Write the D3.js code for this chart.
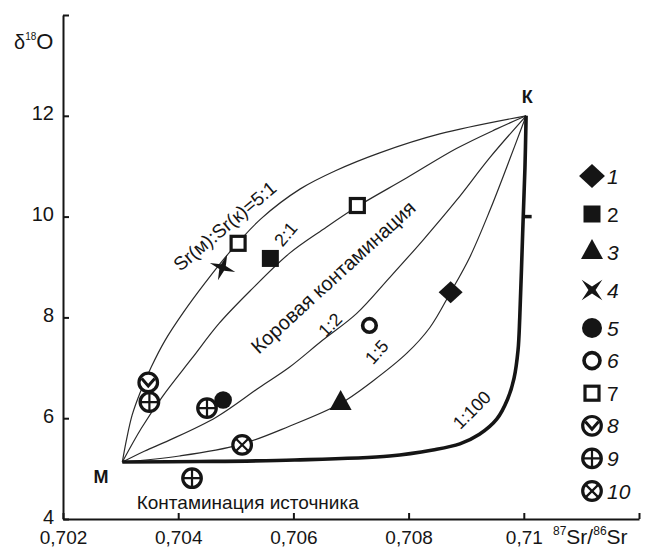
<!DOCTYPE html>
<html>
<head>
<meta charset="utf-8">
<script src="https://cdn.jsdelivr.net/npm/d3@7"></script>
<style>
  body { margin: 0; background: #fff; }
  svg { display: block; font-family: "Liberation Sans", Arial, sans-serif; }
</style>
</head>
<body>
<svg id="chart" width="649" height="549"></svg>
<script>
// values
var legendLabels = ['1', '2', '3', '4', '5', '6', '7', '8', '9', '10'];
var xTicks = [0.702, 0.704, 0.706, 0.708, 0.71, 0.712];
var xTickLabels = ['0,702', '0,704', '0,706', '0,708', '0,71', ''];
var yTicks = [4, 6, 8, 10, 12, 14];
var yTickLabels = ['4', '6', '8', '10', '12', ''];

// samples: type (legend number), 87Sr/86Sr, d18O
var pointType = [1, 2, 3, 4, 5, 6, 7, 7, 8, 9, 9, 9, 10];
var pointSr = [0.70873, 0.70560, 0.70682, 0.70477, 0.70478, 0.70732, 0.70504, 0.70711, 0.70348, 0.70350, 0.70450, 0.70424, 0.70511];
var pointO = [8.50, 9.17, 6.30, 8.99, 6.36, 7.84, 9.47, 10.22, 6.71, 6.32, 6.20, 4.81, 5.47];

// mixing curves M -> K, [87Sr/86Sr, d18O]
var curve5to1 = [[0.70303, 5.13], [0.70310, 5.56], [0.70320, 6.06], [0.70334, 6.51], [0.70353, 7.01],
  [0.70377, 7.54], [0.70409, 8.10], [0.70447, 8.69], [0.70489, 9.29], [0.70544, 9.96], [0.70612, 10.55],
  [0.70673, 10.91], [0.70751, 11.27], [0.70854, 11.64], [0.71004, 12.0]];
var curve2to1 = [[0.70303, 5.13], [0.70336, 5.80], [0.70372, 6.42], [0.70424, 7.19], [0.70471, 7.88],
  [0.70527, 8.55], [0.70593, 9.27], [0.70652, 9.75], [0.70711, 10.20], [0.70797, 10.77], [0.70883, 11.35],
  [0.70953, 11.74], [0.71004, 12.0]];
var curve1to2 = [[0.70303, 5.13], [0.70342, 5.35], [0.70384, 5.56], [0.70466, 6.02], [0.70541, 6.61],
  [0.70593, 7.01], [0.70650, 7.54], [0.70710, 8.08], [0.70767, 8.79], [0.70824, 9.52], [0.70883, 10.32],
  [0.70941, 11.17], [0.71004, 12.0]];
var curve1to5 = [[0.70303, 5.13], [0.70402, 5.25], [0.70506, 5.47], [0.70593, 5.84], [0.70680, 6.28],
  [0.70737, 6.73], [0.70797, 7.29], [0.70837, 7.80], [0.70873, 8.50], [0.70906, 9.19], [0.70941, 10.12],
  [0.70970, 10.97], [0.71004, 12.0]];
var curve1to100 = [[0.70303, 5.13], [0.70437, 5.14], [0.70602, 5.17], [0.70767, 5.25], [0.70842, 5.37],
  [0.70889, 5.49], [0.70923, 5.68], [0.70953, 5.98], [0.70972, 6.38], [0.70983, 6.79], [0.70990, 7.35],
  [0.70993, 8.00], [0.70998, 9.66], [0.71002, 10.97], [0.71004, 12.0]];

var svg = d3.select('#chart');
var ink = '#151515';

var x = d3.scaleLinear().domain([0.702, 0.712]).range([63, 639]);
var y = d3.scaleLinear().domain([4, 14]).range([519, 15]);

// axes
var xAxis = d3.axisBottom(x).tickValues(xTicks).tickSize(-6).tickSizeOuter(0).tickPadding(12)
  .tickFormat(function(d, i) { return xTickLabels[i]; });
var yAxis = d3.axisLeft(y).tickValues(yTicks).tickSize(-6).tickSizeOuter(0).tickPadding(9)
  .tickFormat(function(d, i) { return yTickLabels[i]; });

var gx = svg.append('g').attr('transform', 'translate(0,' + y(4) + ')').call(xAxis);
var gy = svg.append('g').attr('transform', 'translate(' + x(0.702) + ',0)').call(yAxis);
[gx, gy].forEach(function(g) {
  g.select('.domain').attr('stroke', ink).attr('stroke-width', 2);
  g.selectAll('.tick line').attr('stroke', ink).attr('stroke-width', 2);
  g.selectAll('.tick text').attr('fill', ink)
    .style('font-family', '"Liberation Sans", Arial, sans-serif');
});
gx.selectAll('.tick text').style('font-size', '19px');
gy.selectAll('.tick text').style('font-size', '20px').attr('dy', '0.2em');

// axis titles
var yt = svg.append('text').attr('x', 14).attr('y', 49).attr('fill', ink);
yt.append('tspan').text('δ').style('font-size', '20px');
yt.append('tspan').text('18').style('font-size', '10px').attr('dy', -9);
yt.append('tspan').text('O').style('font-size', '22px').attr('dy', 9);

var xt = svg.append('text').attr('x', 553).attr('y', 544).attr('fill', ink);
xt.append('tspan').text('87').style('font-size', '12px').attr('dy', -9);
xt.append('tspan').text('Sr/').style('font-size', '21px').attr('dy', 9);
xt.append('tspan').text('86').style('font-size', '12px').attr('dy', -9);
xt.append('tspan').text('Sr').style('font-size', '21px').attr('dy', 9);

// curves
var line = d3.line()
  .x(function(d) { return x(d[0]); })
  .y(function(d) { return y(d[1]); })
  .curve(d3.curveCatmullRom.alpha(0.5));

[curve5to1, curve2to1, curve1to2, curve1to5].forEach(function(c) {
  svg.append('path').attr('d', line(c)).attr('fill', 'none')
    .attr('stroke', '#2a2a2a').attr('stroke-width', 1.2);
});
svg.append('path').attr('d', line(curve1to100)).attr('fill', 'none')
  .attr('stroke', ink).attr('stroke-width', 3.6).attr('stroke-linejoin', 'round');
svg.append('line')
  .attr('x1', x(0.70998)).attr('x2', x(0.70998) + 9)
  .attr('y1', y(10)).attr('y2', y(10))
  .attr('stroke', ink).attr('stroke-width', 3.5);

// curve labels
var notes = [
  {t: 'Sr(м):Sr(к)=5:1', sr: 0.70481, o: 9.81, a: -40, s: 19},
  {t: '2:1', sr: 0.70587, o: 9.65, a: -50, s: 18},
  {t: 'Коровая контаминация', sr: 0.70669, o: 8.80, a: -42.5, s: 20},
  {t: '1:2', sr: 0.70664, o: 7.85, a: -45, s: 18},
  {t: '1:5', sr: 0.70745, o: 7.31, a: -48, s: 18},
  {t: '1:100', sr: 0.70910, o: 6.16, a: -45, s: 18}
];
svg.selectAll('text.note').data(notes).enter().append('text')
  .attr('class', 'note')
  .attr('transform', function(d) { return 'translate(' + x(d.sr) + ',' + y(d.o) + ') rotate(' + d.a + ')'; })
  .attr('text-anchor', 'middle').attr('dominant-baseline', 'central')
  .attr('fill', ink).style('font-size', function(d) { return d.s + 'px'; })
  .text(function(d) { return d.t; });

svg.append('text').attr('x', x(0.71006)).attr('y', y(12.37)).attr('text-anchor', 'middle')
  .attr('dominant-baseline', 'central').attr('fill', ink)
  .style('font-size', '18px').style('font-weight', 'bold').text('К');
svg.append('text').attr('x', x(0.70266)).attr('y', y(4.83)).attr('text-anchor', 'middle')
  .attr('dominant-baseline', 'central').attr('fill', ink)
  .style('font-size', '18px').style('font-weight', 'bold').text('М');
svg.append('text').attr('x', x(0.70328)).attr('y', y(4.20)).attr('fill', ink)
  .style('font-size', '19px').text('Контаминация источника');

// markers
var starPath = function(R, r, rot) {
  var pts = d3.range(8).map(function(i) { return [rot + i * Math.PI / 4, i % 2 ? r : R]; });
  return d3.lineRadial().curve(d3.curveLinearClosed)(pts);
};

function marker(g, type, big) {
  var k = big ? 1.08 : 1;
  if (type === 1) {
    g.append('path').attr('d', 'M0,' + (-11 * k) + 'L' + (12 * k) + ',0L0,' + (11 * k) + 'L' + (-12 * k) + ',0Z').attr('fill', ink);
  } else if (type === 2) {
    g.append('rect').attr('x', -8.5).attr('y', -8.5).attr('width', 17).attr('height', 17).attr('fill', ink);
  } else if (type === 3) {
    g.append('path').attr('d', 'M0,-13L11,7L-11,7Z').attr('fill', ink);
  } else if (type === 4) {
    g.append('path').attr('d', starPath(13.5 * k, 3.6, big ? Math.PI / 4 : Math.PI / 9)).attr('fill', ink);
  } else if (type === 5) {
    g.append('circle').attr('r', big ? 10 : 8.8).attr('fill', ink);
  } else if (type === 6) {
    g.append('circle').attr('r', big ? 8 : 6.8).attr('fill', '#fff').attr('stroke', ink).attr('stroke-width', 3.6);
  } else if (type === 7) {
    g.append('rect').attr('x', -7).attr('y', -7).attr('width', 14).attr('height', 14)
      .attr('fill', '#fff').attr('stroke', ink).attr('stroke-width', 3.2);
  } else {
    g.append('circle').attr('r', 9.3).attr('fill', '#fff').attr('stroke', ink).attr('stroke-width', 3.2);
    var inner = type === 8 ? 'M-6.5,-4L0,3.5L6.5,-4'
      : type === 9 ? 'M-9,0L9,0M0,-9L0,9'
      : 'M-6.4,-6.4L6.4,6.4M6.4,-6.4L-6.4,6.4';
    g.append('path').attr('d', inner).attr('fill', 'none').attr('stroke', ink)
      .attr('stroke-width', type === 8 ? 3 : 2.2);
  }
}

var pts = pointType.map(function(t, i) { return {t: t, sr: pointSr[i], o: pointO[i]}; });
svg.selectAll('g.pt').data(pts).enter().append('g')
  .attr('class', 'pt')
  .attr('transform', function(d) { return 'translate(' + x(d.sr) + ',' + y(d.o) + ')'; })
  .each(function(d) { marker(d3.select(this), d.t, false); });

// legend
var ly = d3.scaleLinear().domain([0, 4, 9]).range([176, 328, 491]);
var lg = svg.selectAll('g.leg').data(legendLabels).enter().append('g')
  .attr('class', 'leg')
  .attr('transform', function(d, i) { return 'translate(592,' + ly(i) + ')'; });
lg.each(function(d, i) { marker(d3.select(this), i + 1, true); });
lg.append('text').attr('x', 15).attr('dominant-baseline', 'central').attr('fill', ink)
  .style('font-size', '21px')
  .style('font-style', function(d) { return d === '2' || d === '7' ? 'normal' : 'italic'; })
  .text(function(d) { return d; });
</script>
</body>
</html>
